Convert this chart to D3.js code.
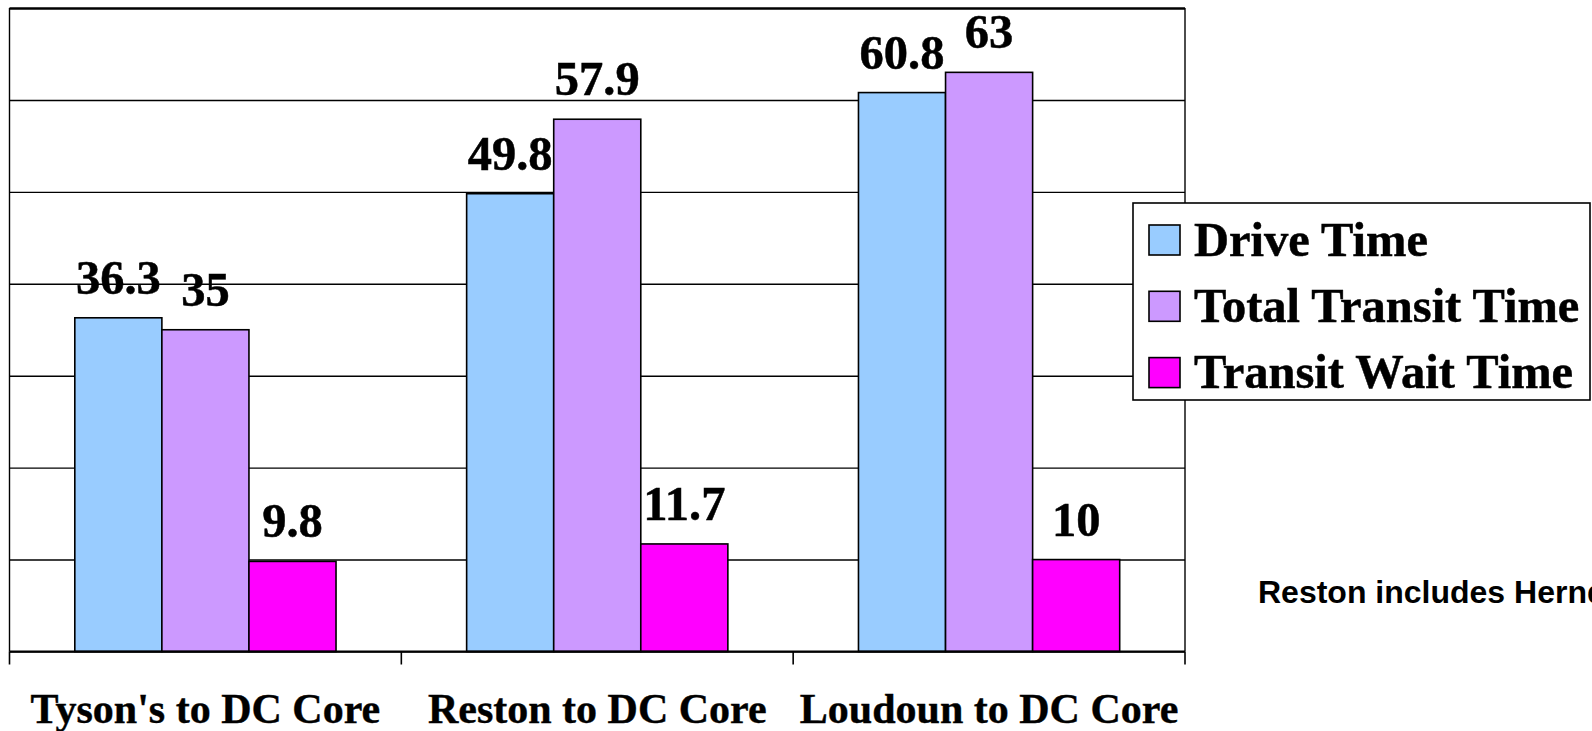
<!DOCTYPE html>
<html>
<head>
<meta charset="utf-8">
<script src="https://cdn.jsdelivr.net/npm/d3@7"></script>
<style>
  html, body { margin: 0; padding: 0; background: #fff; overflow: hidden; }
  svg { display: block; }
</style>
</head>
<body>
<script>
// ---- data ----
const categories = ["Tyson's to DC Core", "Reston to DC Core", "Loudoun to DC Core"];
const seriesNames = ["Drive Time", "Total Transit Time", "Transit Wait Time"];
const driveTime = [36.3, 49.8, 60.8];
const totalTransitTime = [35, 57.9, 63];
const transitWaitTime = [9.8, 11.7, 10];
const seriesColors = ["#99CCFF", "#CC99FF", "#FF00FF"];
const yTicks = [0, 10, 20, 30, 40, 50, 60, 70];
const footnote = "Reston includes Herndon";

const seriesValues = [driveTime, totalTransitTime, transitWaitTime];

const W = 1592, H = 731;
const plot = { left: 9.5, right: 1185, top: 8, bottom: 651.5 };
const serif = "'Liberation Serif', 'Times New Roman', serif";

const svg = d3.select("body").append("svg").attr("width", W).attr("height", H);

const x0 = d3.scaleBand().domain(categories).range([plot.left, plot.right]).padding(0);
const x1 = d3.scaleBand().domain(seriesNames).range([0, x0.bandwidth()])
  .paddingInner(0).paddingOuter(0.75);
const y = d3.scaleLinear().domain([0, 70]).range([plot.bottom, plot.top]);

// gridlines
const grid = svg.append("g").attr("transform", `translate(${plot.left},0)`)
  .call(d3.axisLeft(y).tickValues(yTicks).tickSize(-(plot.right - plot.left)).tickFormat(""));
grid.select(".domain").remove();
grid.selectAll(".tick line").attr("stroke", "#000").attr("stroke-width", 1.4);
grid.selectAll(".tick").filter(d => d === 70).select("line").attr("stroke-width", 2.4);

// left & right borders
svg.append("line").attr("x1", plot.left).attr("x2", plot.left)
  .attr("y1", plot.top).attr("y2", plot.bottom).attr("stroke", "#000").attr("stroke-width", 1.4);
svg.append("line").attr("x1", plot.right).attr("x2", plot.right)
  .attr("y1", plot.top).attr("y2", plot.bottom).attr("stroke", "#000").attr("stroke-width", 1.4);

// bars
const groups = svg.append("g").selectAll("g").data(categories).join("g")
  .attr("transform", d => `translate(${x0(d)},0)`);
groups.selectAll("rect")
  .data((c, i) => seriesNames.map((s, j) => ({ s, j, v: seriesValues[j][i] })))
  .join("rect")
  .attr("x", d => x1(d.s))
  .attr("y", d => y(d.v))
  .attr("width", x1.bandwidth())
  .attr("height", d => y(0) - y(d.v))
  .attr("fill", d => seriesColors[d.j])
  .attr("stroke", "#000")
  .attr("stroke-width", 1.6);

// bottom axis with category ticks
const xAxis = svg.append("g").attr("transform", `translate(0,${plot.bottom})`);
xAxis.append("line").attr("x1", plot.left).attr("x2", plot.right)
  .attr("stroke", "#000").attr("stroke-width", 2);
const tickXs = categories.map(c => x0(c)).concat([x0(categories[categories.length - 1]) + x0.bandwidth()]);
xAxis.selectAll("line.tk").data(tickXs).join("line").attr("class", "tk")
  .attr("x1", d => d).attr("x2", d => d).attr("y1", 0).attr("y2", 13)
  .attr("stroke", "#000").attr("stroke-width", 1.6);

// category labels
svg.append("g").selectAll("text").data(categories).join("text")
  .attr("x", d => x0(d) + x0.bandwidth() / 2)
  .attr("y", 723)
  .attr("text-anchor", "middle")
  .attr("font-family", serif)
  .attr("font-weight", "bold")
  .attr("font-size", 42)
  .attr("fill", "#000")
  .attr("stroke", "#000").attr("stroke-width", 0.4)
  .text(d => d);

// value labels
groups.selectAll("text")
  .data((c, i) => seriesNames.map((s, j) => ({ s, j, v: seriesValues[j][i] })))
  .join("text")
  .attr("x", d => x1(d.s) + x1.bandwidth() / 2)
  .attr("y", d => y(d.v) - 24)
  .attr("text-anchor", "middle")
  .attr("font-family", serif)
  .attr("font-weight", "bold")
  .attr("font-size", 48.5)
  .attr("fill", "#000")
  .attr("stroke", "#000").attr("stroke-width", 0.5)
  .text(d => d.v);

// legend
const lg = svg.append("g");
lg.append("rect").attr("x", 1133).attr("y", 203).attr("width", 457).attr("height", 197)
  .attr("fill", "#fff").attr("stroke", "#000").attr("stroke-width", 1.6);
const items = lg.selectAll("g").data(seriesNames).join("g")
  .attr("transform", (d, i) => `translate(0,${i * 66.3})`);
items.append("rect").attr("x", 1149).attr("y", 225).attr("width", 31).attr("height", 30)
  .attr("fill", (d, i) => seriesColors[i]).attr("stroke", "#000").attr("stroke-width", 1.6);
items.append("text").attr("x", 1194).attr("y", 255.5)
  .attr("font-family", serif)
  .attr("font-weight", "bold").attr("font-size", 48.5).attr("fill", "#000")
  .attr("stroke", "#000").attr("stroke-width", 0.5)
  .text(d => d);

// footnote
svg.append("text").attr("x", 1258).attr("y", 603)
  .attr("font-family", "'Liberation Sans', Arial, sans-serif")
  .attr("font-weight", "bold").attr("font-size", 32).attr("fill", "#000")
  .text(footnote);
</script>
</body>
</html>
